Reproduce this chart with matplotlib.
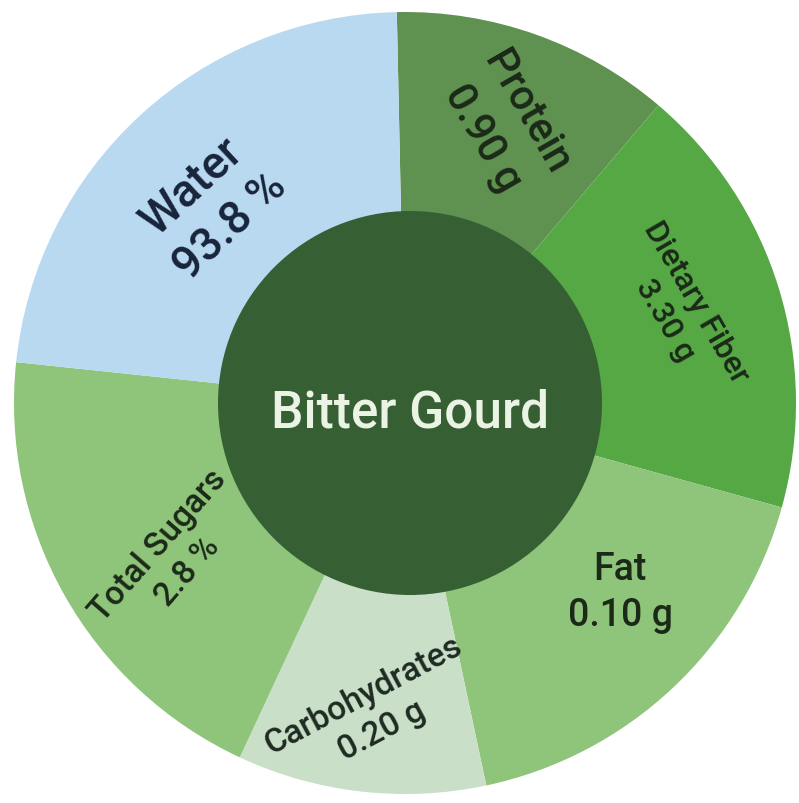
import matplotlib.pyplot as plt
import numpy as np

# slices go clockwise from the top
nutrients = ["Protein", "Dietary Fiber", "Fat", "Carbohydrates", "Total Sugars", "Water"]
amounts = ["0.90 g", "3.30 g", "0.10 g", "0.20 g", "2.8 %", "93.8 %"]
slice_sizes = [41.6, 65.1, 62.5, 37.0, 71.0, 82.8]
center_title = "Bitter Gourd"

colors = ["#5f9150", "#56a845", "#8fc47b", "#c9dfc7", "#8fc47b", "#b9d9f1"]
text_colors = ["#1b2a18", "#1b2a18", "#1b2a18", "#1e2a22", "#1b2a18", "#17243a"]
font_sizes = [30, 23, 27, 24, 24, 33]
rotations = [-60, -60, 0, 28, 49, 43]
label_r = [296, 291, 286, 311, 279, 277]
label_shift = [0, 1.5, 5.5, 0.6, 4.2, 1.8]

plt.rcParams['font.family'] = ['Roboto', 'DejaVu Sans']

fig = plt.figure(figsize=(7.99, 8.04), dpi=100)
ax = fig.add_axes([0, 0, 1, 1])

cx, cy = 405, 400
wedges, _ = ax.pie(slice_sizes, colors=colors, startangle=91.2, counterclock=False,
                   center=(cx, cy), radius=391, frame=True,
                   wedgeprops=dict(linewidth=0))
ax.set_xlim(0, 799)
ax.set_ylim(0, 804)
ax.set_aspect('equal')
ax.axis('off')

for i, w in enumerate(wedges):
    mid = np.deg2rad((w.theta1 + w.theta2) / 2 + label_shift[i])
    x = cx + label_r[i] * np.cos(mid)
    y = cy + label_r[i] * np.sin(mid)
    ax.text(x, y, nutrients[i] + "\n" + amounts[i], ha='center', va='center',
            multialignment='center', rotation=rotations[i], rotation_mode='anchor',
            fontsize=font_sizes[i], color=text_colors[i], fontweight='medium',
            linespacing=1.3)

ax.add_patch(plt.Circle((410, 400), 192, color="#365f33", lw=0))
ax.text(410, 390, center_title, ha='center', va='center', fontsize=37,
        color="#eaf3e4", fontweight='medium')

fig.savefig("out.png", dpi=100, facecolor='white')
